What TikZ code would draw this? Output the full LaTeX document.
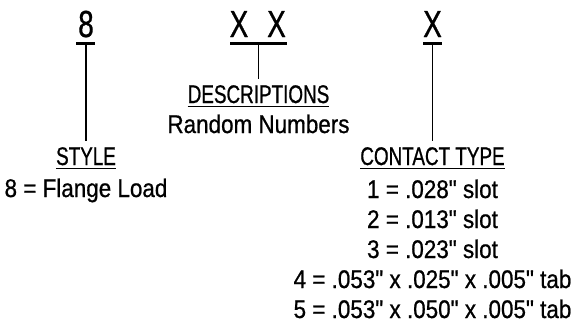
\documentclass[tikz,border=0pt]{standalone}
\usepackage{fontspec}
\setmainfont{Liberation Sans}
\newfontfamily\capsf[FakeStretch=0.74,FakeBold=0.8]{Liberation Sans}
\newfontfamily\txtf[FakeStretch=0.88,FakeBold=0.8]{Liberation Sans}
\newfontfamily\bigf[FakeStretch=0.74,FakeBold=0.8]{Liberation Sans}
\begin{document}
\begin{tikzpicture}[x=1pt,y=-1pt,
  big/.style={inner sep=0pt,anchor=base,font=\bigf\fontsize{37.7}{40}\selectfont},
  head/.style={inner sep=0pt,anchor=base,font=\capsf\fontsize{25.5}{28}\selectfont},
  txt/.style={inner sep=0pt,anchor=base,font=\txtf\fontsize{25.5}{28}\selectfont},
  bar/.style={line width=2.5pt},
  uline/.style={line width=1.2pt},
  conn/.style={line width=1.1pt,shorten >=6pt}]
\useasboundingbox (0,0) rectangle (578,327);
% code characters
\node[big] (c8) at (86,37) {8};
\node[big] (x1) at (239,37) {X};
\node[big] (x2) at (276.5,37) {X};
\node[big] (x3) at (432.5,37) {X};
% bars under code characters
\coordinate (b8w) at (76,43.5); \coordinate (b8e) at (95,43.5);
\coordinate (bxw) at (230,43.5); \coordinate (bxe) at (287,43.5);
\coordinate (b3w) at (423,43.5); \coordinate (b3e) at (442,43.5);
\coordinate (u8) at (86,43.5);
\coordinate (ux) at (258.5,43.5);
\coordinate (u3) at (432.5,43.5);
\draw[bar] (b8w) -- (b8e);
\draw[bar] (bxw) -- (bxe);
\draw[bar] (b3w) -- (b3e);
% headings
\node[head] (st) at (86,165) {STYLE};
\node[head] (de) at (258.5,103) {DESCRIPTIONS};
\node[head] (ct) at (432.5,165) {CONTACT TYPE};
\foreach \n in {st,de,ct}{
  \draw[uline] ([yshift=-3.5pt]\n.base west) -- ([yshift=-3.5pt]\n.base east);
}
% connectors
\draw[conn] (u8) -- (st.north);
\draw[conn] (ux) -- (de.north);
\draw[conn] (u3) -- (ct.north);
% texts
\node[txt] (t8) at (86,197) {8 = Flange Load};
\node[txt] (rn) at (258.5,133) {Random Numbers};
\node[txt] (l1) at (432.5,198) {1 = .028" slot};
\node[txt] (l2) at (432.5,228) {2 = .013" slot};
\node[txt] (l3) at (432.5,258) {3 = .023" slot};
\node[txt] (l4) at (432.5,288) {4 = .053" x .025" x .005" tab};
\node[txt] (l5) at (432.5,318) {5 = .053" x .050" x .005" tab};
\end{tikzpicture}
\end{document}
